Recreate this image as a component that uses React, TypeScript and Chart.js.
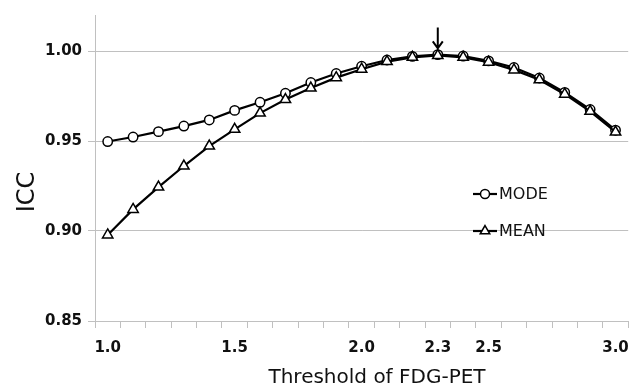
import React, { useEffect, useRef } from "react";
import { Chart, registerables } from "chart.js";

Chart.register(...registerables);

const CATEGORIES = [
  "1.0", "1.1", "1.2", "1.3", "1.4", "1.5", "1.6", "1.7", "1.8", "1.9", "2.0",
  "2.1", "2.2", "2.3", "2.4", "2.5", "2.6", "2.7", "2.8", "2.9", "3.0",
];
const MODE_VALUES = [
  0.9497, 0.9522, 0.9552, 0.9583, 0.9617, 0.9670, 0.9715, 0.9765, 0.9825, 0.9875, 0.9915,
  0.9950, 0.9970, 0.9980, 0.9972, 0.9945, 0.9908, 0.9850, 0.9770, 0.9675, 0.9560,
];
const MEAN_VALUES = [
  0.8978, 0.9120, 0.9244, 0.9361, 0.9472, 0.9565, 0.9655, 0.9730, 0.9794, 0.9852, 0.9899,
  0.9941, 0.9965, 0.9975, 0.9965, 0.9938, 0.9895, 0.9840, 0.9760, 0.9665, 0.9550,
];
const SERIES_LABELS = ["MODE", "MEAN"];
const X_TICK_LABELS = ["1.0", "1.5", "2.0", "2.3", "2.5", "3.0"];
const Y_TICKS = [0.85, 0.9, 0.95, 1.0];
const Y_MIN = 0.85;
const Y_MAX = 1.02;
const ARROW_AT = "2.3";
const ARROW_FROM = 1.013;
const ARROW_TO = 1.0015;
const X_TITLE = "Threshold of FDG-PET";
const Y_TITLE = "ICC";

const FONT = "'DejaVu Sans', sans-serif";
const GRID = "#c0c0c0";
const TEXT = "#111111";

function drawMarker(ctx: CanvasRenderingContext2D, style: string, x: number, y: number, r: number) {
  ctx.beginPath();
  if (style === "circle") {
    ctx.arc(x, y, r, 0, Math.PI * 2);
  } else {
    const hw = (r * Math.sqrt(3)) / 2;
    ctx.moveTo(x, y - r);
    ctx.lineTo(x + hw, y + r / 2);
    ctx.lineTo(x - hw, y + r / 2);
    ctx.closePath();
  }
  ctx.fillStyle = "#ffffff";
  ctx.fill();
  ctx.lineWidth = 1.5;
  ctx.strokeStyle = "#000000";
  ctx.stroke();
}

const overlayPlugin = {
  id: "overlay",
  afterDraw(chart: any) {
    const { ctx, scales } = chart;
    const x = scales.x;
    const y = scales.y;
    ctx.save();

    // Arrow
    const ax = x.getPixelForValue(CATEGORIES.indexOf(ARROW_AT));
    const ay1 = y.getPixelForValue(ARROW_FROM);
    const ay2 = y.getPixelForValue(ARROW_TO);
    ctx.strokeStyle = "#000";
    ctx.lineWidth = 2;
    ctx.beginPath();
    ctx.moveTo(ax, ay1);
    ctx.lineTo(ax, ay2);
    ctx.moveTo(ax - 5, ay2 - 7);
    ctx.lineTo(ax, ay2);
    ctx.lineTo(ax + 5, ay2 - 7);
    ctx.stroke();

    // Legend
    const rows = [194, 231];
    chart.data.datasets.forEach((ds: any, i: number) => {
      const ry = rows[i];
      ctx.strokeStyle = "#000";
      ctx.lineWidth = 2.2;
      ctx.beginPath();
      ctx.moveTo(473, ry);
      ctx.lineTo(497, ry);
      ctx.stroke();
      drawMarker(ctx, ds.pointStyle, 485, ry, ds.pointStyle === "circle" ? 4.5 : 5.5);
      ctx.fillStyle = TEXT;
      ctx.font = `16px ${FONT}`;
      ctx.textAlign = "left";
      ctx.textBaseline = "middle";
      ctx.fillText(ds.label, 499, ry + 1);
    });

    // Axis titles
    ctx.fillStyle = TEXT;
    ctx.font = `20px ${FONT}`;
    ctx.textAlign = "center";
    ctx.textBaseline = "middle";
    ctx.fillText(X_TITLE, 377, 378);

    ctx.save();
    ctx.translate(28, 192);
    ctx.rotate(-Math.PI / 2);
    ctx.font = `24px ${FONT}`;
    ctx.fillText(Y_TITLE, 0, 0);
    ctx.restore();

    ctx.restore();
  },
};

export default function App() {
  const ref = useRef<HTMLCanvasElement>(null);

  useEffect(() => {
    if (!ref.current) return;
    const chart = new Chart(ref.current, {
      type: "line",
      data: {
        labels: CATEGORIES,
        datasets: [
          {
            label: SERIES_LABELS[0],
            data: MODE_VALUES,
            borderColor: "#000",
            borderWidth: 2.2,
            pointStyle: "circle",
            pointRadius: 4.7,
            pointBorderWidth: 1.5,
            pointBackgroundColor: "#fff",
            pointBorderColor: "#000",
            tension: 0,
            order: 2,
          },
          {
            label: SERIES_LABELS[1],
            data: MEAN_VALUES,
            borderColor: "#000",
            borderWidth: 2.2,
            pointStyle: "triangle",
            pointRadius: 6,
            pointBorderWidth: 1.5,
            pointBackgroundColor: "#fff",
            pointBorderColor: "#000",
            tension: 0,
            order: 1,
          },
        ],
      },
      options: {
        responsive: false,
        animation: false,
        layout: { padding: { top: 15, right: 8, left: 0, bottom: 0 } },
        plugins: {
          legend: { display: false },
          tooltip: { enabled: false },
        },
        scales: {
          x: {
            type: "category",
            offset: true,
            grid: {
              offset: true,
              drawOnChartArea: false,
              color: GRID,
              tickLength: 7,
            },
            border: { color: GRID, width: 1 },
            ticks: {
              autoSkip: false,
              maxRotation: 0,
              minRotation: 0,
              padding: 11,
              color: TEXT,
              font: { family: FONT, size: 15, weight: "bold" },
              callback: (_v: any, i: number) =>
                X_TICK_LABELS.includes(CATEGORIES[i]) ? CATEGORIES[i] : "",
            },
            afterFit: (s: any) => {
              s.height = 69;
            },
          },
          y: {
            min: Y_MIN,
            max: Y_MAX,
            afterBuildTicks: (s: any) => {
              s.ticks = Y_TICKS.map((v) => ({ value: v }));
            },
            afterFit: (s: any) => {
              s.width = 95;
            },
            grid: { color: GRID, lineWidth: 1, tickLength: 7 },
            border: { display: true, color: GRID, width: 1 },
            ticks: {
              padding: 6,
              color: TEXT,
              font: { family: FONT, size: 15, weight: "bold" },
              callback: (v: any) => Number(v).toFixed(2),
            },
          },
        },
      },
      plugins: [overlayPlugin],
    });
    return () => chart.destroy();
  }, []);

  return (
    <div style={{ position: "absolute", left: 0, top: 0, width: 640, height: 390, background: "#fff" }}>
      <canvas ref={ref} width={640} height={390} />
    </div>
  );
}
